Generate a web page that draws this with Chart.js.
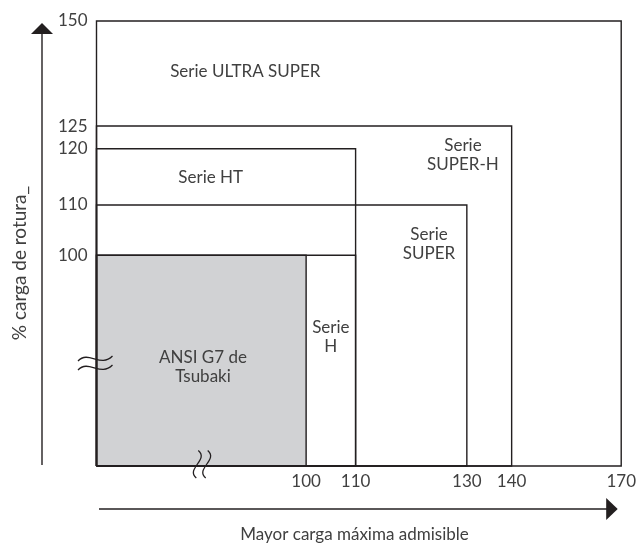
<!DOCTYPE html>
<html>
<head>
<meta charset="utf-8">
<script src="https://cdn.jsdelivr.net/npm/chart.js@4"></script>
<style>
  html, body { margin: 0; padding: 0; background: #fff; }
  #wrap { width: 641px; height: 543px; }
</style>
</head>
<body>
<div id="wrap"><canvas id="seriesChart"></canvas></div>
<script>
// each series is a box from the origin up to (max load, % breaking load)
const series = ['ULTRA SUPER', 'SUPER-H', 'HT', 'SUPER', 'H', 'ANSI G7 de Tsubaki'];
const maxLoad = [170, 140, 110, 130, 110, 100];
const breakLoad = [150, 125, 120, 110, 100, 100];
const boxText = [['Serie ULTRA SUPER'], ['Serie', 'SUPER-H'], ['Serie HT'], ['Serie', 'SUPER'], ['Serie', 'H'], ['ANSI G7 de', 'Tsubaki']];
const textX = [71, 129.3, 54.5, 123.2, 105, 50.8];
const textY = [137.9, 118.9, 114.8, 102.2, 61, 47];
const xTicks = [100, 110, 130, 140, 170];
const yTicks = [100, 110, 120, 125, 150];

const ink = '#231f20';
const textInk = '#404040';

// the axes are schematic: every tick gets its own spot, values in between are interpolated
class SegmentScale extends Chart.LinearScale {
  buildTicks() {
    return this.options.marks.map(v => ({ value: v }));
  }
  toDecimal(v) {
    const s = this.options.stops;
    for (let i = 1; i < s.length; i++) {
      if (v <= s[i][0] || i === s.length - 1) {
        const [v0, f0] = s[i - 1], [v1, f1] = s[i];
        return f0 + (v - v0) / (v1 - v0) * (f1 - f0);
      }
    }
    return 0;
  }
  getPixelForValue(v) {
    return this.getPixelForDecimal(this.toDecimal(v));
  }
}
SegmentScale.id = 'segment';
SegmentScale.defaults = {};
Chart.register(SegmentScale);

const boxes = series.map((name, i) => ({
  label: name,
  data: [
    { x: 0, y: 0 }, { x: 0, y: breakLoad[i] },
    { x: maxLoad[i], y: breakLoad[i] }, { x: maxLoad[i], y: 0 }, { x: 0, y: 0 }
  ],
  showLine: true,
  borderColor: ink,
  borderWidth: 1.4,
  backgroundColor: i === series.length - 1 ? '#d1d2d4' : 'transparent',
  fill: i === series.length - 1 ? 'shape' : false,
  pointRadius: 0,
  tension: 0,
  clip: false,
  order: i === series.length - 1 ? 10 : 0
}));

const decor = {
  id: 'decor',
  afterDatasetsDraw(chart) {
    const { ctx, chartArea: a, scales: { x, y } } = chart;
    ctx.save();
    // box labels
    ctx.fillStyle = textInk;
    ctx.font = '17px Lato';
    ctx.textAlign = 'center';
    ctx.textBaseline = 'middle';
    boxText.forEach((lines, i) => {
      const px = x.getPixelForValue(textX[i]);
      const py = y.getPixelForValue(textY[i]);
      const lh = 19;
      lines.forEach((t, k) => {
        ctx.fillText(t, px, py + (k - (lines.length - 1) / 2) * lh);
      });
    });

    ctx.strokeStyle = ink;
    ctx.fillStyle = ink;
    ctx.lineWidth = 1.4;
    // vertical arrow
    const ax = a.left - 54.5;
    ctx.beginPath();
    ctx.moveTo(ax, a.bottom - 1);
    ctx.lineTo(ax, a.top + 12);
    ctx.stroke();
    ctx.beginPath();
    ctx.moveTo(ax, a.top + 2);
    ctx.lineTo(ax - 11, a.top + 13);
    ctx.lineTo(ax + 11, a.top + 13);
    ctx.closePath();
    ctx.fill();
    // horizontal arrow
    const ay = a.bottom + 43;
    ctx.beginPath();
    ctx.moveTo(a.left + 2.5, ay);
    ctx.lineTo(a.right - 14, ay);
    ctx.stroke();
    ctx.beginPath();
    ctx.moveTo(a.right - 3.5, ay);
    ctx.lineTo(a.right - 15, ay - 11);
    ctx.lineTo(a.right - 15, ay + 11);
    ctx.closePath();
    ctx.fill();

    // break marks on the y axis
    ctx.lineWidth = 1.3;
    [358, 367].forEach(yc => {
      const y0 = a.top + (yc - 21);
      ctx.beginPath();
      ctx.moveTo(a.left - 18.5, y0 + 3);
      ctx.bezierCurveTo(a.left - 8, y0 - 8, a.left + 4, y0 + 10, a.left + 16, y0 - 2);
      ctx.stroke();
    });
    // break marks on the x axis
    [197.3, 206.7].forEach(xc => {
      const x0 = a.left + (xc - 96.5);
      const top = a.bottom - 15.5, bot = a.bottom + 12;
      ctx.beginPath();
      ctx.moveTo(x0 + 1, top);
      ctx.bezierCurveTo(x0 + 12, top + 9, x0 - 12, bot - 9, x0 - 1, bot);
      ctx.stroke();
    });
    ctx.restore();
  }
};

Chart.defaults.font.family = 'Lato';
Chart.defaults.font.size = 17;
Chart.defaults.color = textInk;

new Chart('seriesChart', {
  type: 'scatter',
  data: { datasets: boxes },
  options: {
    responsive: true,
    maintainAspectRatio: false,
    animation: false,
    events: [],
    layout: { padding: { left: 0, top: 21, right: 14.3, bottom: 0 } },
    scales: {
      x: {
        type: 'segment',
        min: 0,
        max: 170,
        marks: xTicks,
        stops: [[0, 0], [100, 0.3995], [110, 0.4938], [130, 0.7058], [140, 0.7912], [170, 1]],
        grid: { display: false, drawTicks: false },
        border: { display: false },
        ticks: { padding: 5, maxRotation: 0, autoSkip: false, callback: v => String(v) },
        title: {
          display: true,
          text: 'Mayor carga máxima admisible  ',
          padding: { top: 0, bottom: -2 }
        },
        afterFit: s => { s.height = 77; }
      },
      y: {
        type: 'segment',
        min: 0,
        max: 150,
        marks: yTicks,
        stops: [[0, 0], [100, 0.4735], [110, 0.5865], [120, 0.7130], [125, 0.764], [150, 1]],
        grid: { display: false, drawTicks: false },
        border: { display: false },
        ticks: { padding: 9, autoSkip: false, callback: v => String(v) },
        title: {
          display: true,
          text: '% carga de rotura_        ',
          font: { size: 19 },
          padding: { top: 8.1, bottom: 0 }
        },
        afterFit: s => { s.width = 96.5; }
      }
    },
    plugins: {
      legend: { display: false },
      tooltip: { enabled: false }
    }
  },
  plugins: [decor]
});
</script>
</body>
</html>
